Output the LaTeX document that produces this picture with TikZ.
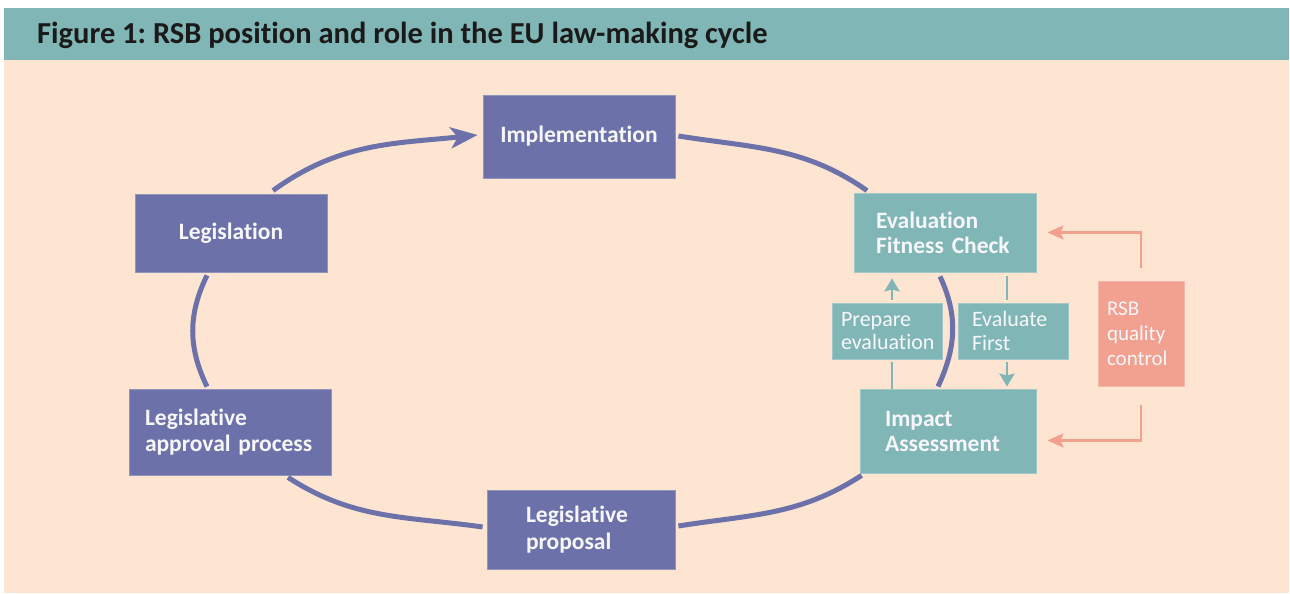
\documentclass[tikz,border=0pt]{standalone}
\usepackage{fontspec}
\setmainfont{Carlito}[Ligatures=NoCommon]
\usetikzlibrary{arrows.meta,calc}
\definecolor{peach}{HTML}{FDE5D2}
\definecolor{tealc}{HTML}{80B6B5}
\definecolor{purp}{HTML}{6C72A9}
\definecolor{salmon}{HTML}{F2A190}
\definecolor{salmonline}{HTML}{F4A08D}
\definecolor{titlec}{HTML}{1A1A1A}
\definecolor{boxtext}{HTML}{F7F7FB}
\frenchspacing
\begin{document}
\begin{tikzpicture}[x=1pt,y=1pt,
  box/.style={rectangle, inner ysep=0pt, text=boxtext, line width=0.8pt},
  pbox/.style={box, fill=purp, draw=purp!75!white, font=\bfseries\fontsize{23.5}{26.5}\selectfont},
  tbox/.style={box, fill=tealc, draw=tealc!75!white, font=\bfseries\fontsize{23.5}{25}\selectfont},
  lbox/.style={box, fill=tealc, draw=tealc!75!white, font=\fontsize{22}{23.5}\selectfont},
  rbox/.style={box, fill=salmon, draw=salmon!75!white, font=\fontsize{21}{25}\selectfont},
  cyc/.style={draw=purp, line width=5pt},
  rsbarrow/.style={draw=salmonline, line width=2.8pt, -{Stealth[length=16pt,width=14pt,inset=3pt]}},
  tline/.style={draw=tealc, line width=2.8pt},
  tarrow/.style={tline, -{Stealth[length=13pt,width=15pt,inset=2pt]}},
]
\useasboundingbox (0,0) rectangle (1290,594);
\fill[white] (0,0) rectangle (1290,594);
\fill[peach] (4,1) rectangle (1289,534);
\fill[tealc] (4,534) rectangle (1289,586);
\node[anchor=base west, inner sep=0pt, text=titlec, font=\bfseries\fontsize{30.5}{33}\selectfont] (title) at (37,550) {Figure 1: RSB position and role in the EU law-making cycle};

% cycle nodes
\node[pbox, minimum height=83pt, text width=176pt, inner xsep=8pt, align=center] (impl) at (579,457.5) {Implementation};
\node[pbox, minimum height=78pt, text width=176pt, inner xsep=8pt, align=center] (leg) at (231,361) {Legislation};
\node[pbox, minimum height=86pt, text width=170pt, inner xsep=16pt, align=left] (lap) at (230,162) {Legislative\\\mbox{approval process}};
\node[pbox, minimum height=79pt, text width=110pt, inner xsep=39pt, align=left] (lprop) at (581,64.5) {Legislative\\proposal};
\node[tbox, minimum height=79pt, text width=138pt, inner xsep=22pt, align=left] (efc) at (945,361.5) {Evaluation\\\mbox{Fitness Check}};
\node[tbox, minimum height=84pt, text width=126pt, inner xsep=25pt, align=left] (ia) at (948,163) {Impact\\Assessment};
\node[lbox, minimum height=56pt, text width=92pt, inner xsep=9pt, align=left] (prep) at (887,263) {Prepare\\evaluation};
\node[lbox, minimum height=56pt, text width=82pt, inner xsep=14pt, align=left] (evf) at (1013,263) {Evaluate\\First};
\node[rbox, minimum height=105pt, text width=68pt, inner xsep=9pt, align=left] (rsb) at (1141,260.5) {RSB\\quality\\control};

% cycle connectors
\draw[cyc, -{Stealth[length=27pt,width=21pt,inset=7pt]}] ($(leg.north)+(42,3)$) to[out=36,in=186] ($(impl.west)+(-5,1.5)$);
\draw[cyc] ($(impl.east)+(3,0.5)$) to[out=-9,in=145] ($(efc.north)+(-78,2)$);
\draw[cyc] ($(efc.south)+(-5,-4)$) to[out=-65,in=65] ($(ia.north)+(-10,2)$);
\draw[cyc] ($(ia.south west)+(2,-2)$) to[out=213,in=9] ($(lprop.east)+(3,3.5)$);
\draw[cyc] ($(lprop.west)+(-4,2.5)$) to[out=172,in=-33] ($(lap.south)+(58,-2)$);
\draw[cyc] ($(lap.north)+(-23,2)$) to[out=116,in=244] ($(leg.south)+(-24,-3)$);

% evaluation connectors
\draw[tarrow] ($(prep.north)+(5,3)$) -- ($(prep.north |- efc.south)+(5,-6)$);
\draw[tline] ($(ia.north -| prep.south)+(5,0)$) -- ($(prep.south)+(5,-3)$);
\draw[tline] ($(efc.south -| evf.north)+(-6,-4)$) -- ($(evf.north)+(-6,3)$);
\draw[tarrow] ($(evf.south)+(-6,-3)$) -- ($(evf.south |- ia.north)+(-6,2)$);

% RSB connectors
\draw[rsbarrow] ($(rsb.north)+(0,13)$) |- ($(efc.east)+(11,0)$);
\draw[rsbarrow] ($(rsb.south)+(0,-19)$) |- ($(ia.east)+(11,-9.5)$);
\end{tikzpicture}
\end{document}
